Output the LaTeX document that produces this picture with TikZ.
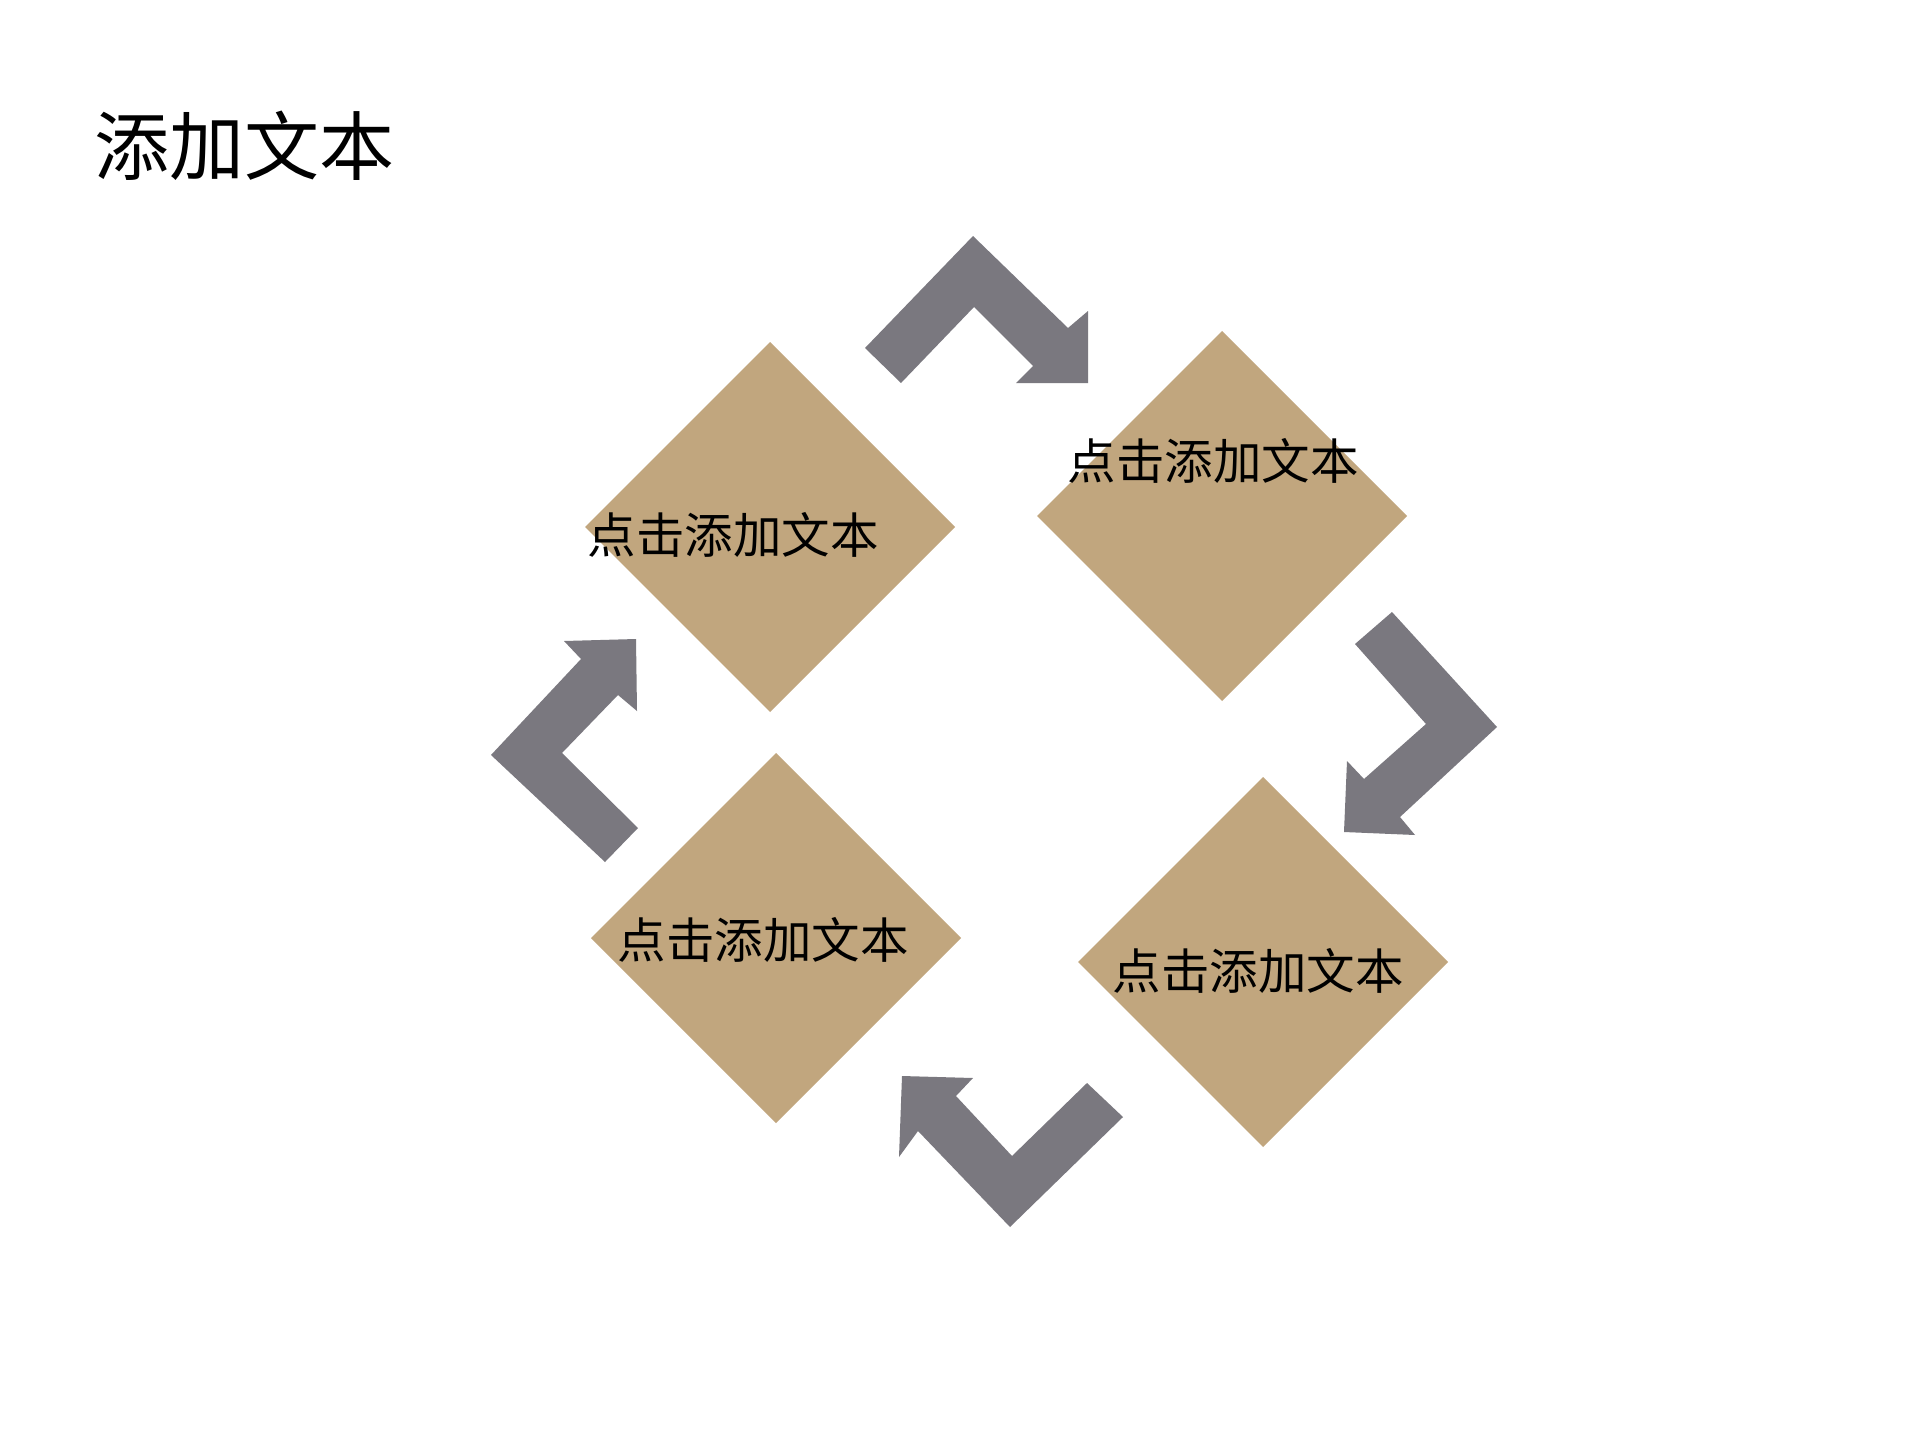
\documentclass[tikz,border=0pt]{standalone}
\usepackage{fontspec}
\newfontfamily\cjk{Noto Sans CJK SC}
\usetikzlibrary{shapes.geometric}
\definecolor{tanfill}{RGB}{193,166,126}
\definecolor{arrowgray}{RGB}{122,120,127}
\tikzset{
  dia/.style={diamond, fill=tanfill, draw=none, inner sep=0pt, outer sep=0pt,
    minimum width=370pt, minimum height=370pt},
  lbl/.style={inner sep=0pt, font=\cjk\fontsize{48.5}{58}\selectfont, text=black},
  ttl/.style={inner sep=0pt, font=\cjk\fontsize{75}{90}\selectfont, text=black},
  bentarrow/.style={fill=arrowgray, draw=none}
}
\begin{document}
\begin{tikzpicture}[x=1pt,y=-1pt]
\useasboundingbox[fill=white] (0,0) rectangle (1920,1440);
% title
\node[ttl] (title) at (244,146) {添加文本};
% diamonds
\node[dia] (d1) at (770,527) {};
\node[dia] (d2) at (1222,516) {};
\node[dia] (d3) at (1263,962) {};
\node[dia] (d4) at (776,938) {};
% labels
\node[lbl] (t1) at (733,535) {点击添加文本};
\node[lbl] (t2) at (1213,461) {点击添加文本};
\node[lbl] (t3) at (1258,971) {点击添加文本};
\node[lbl] (t4) at (763,940) {点击添加文本};
% top arrow (to the right)
\fill[bentarrow] (865,348) -- (973,236) -- (1068,328) -- (1088,311) -- (1088,383)
  -- (1016,383) -- (1033,366) -- (974,307) -- (901,383) -- cycle;
% right arrow (downwards)
\fill[bentarrow] (1392,612) -- (1497,727) -- (1400,817) -- (1415,835) -- (1344,832)
  -- (1347,761) -- (1364,779) -- (1426,724) -- (1355,644) -- cycle;
% bottom arrow (to the left)
\fill[bentarrow] (1123,1117) -- (1010,1227) -- (918,1131) -- (899,1157) -- (902,1076)
  -- (973,1078) -- (956,1096) -- (1012,1156) -- (1087,1083) -- cycle;
% left arrow (upwards)
\fill[bentarrow] (605,862) -- (491,755) -- (581,659) -- (564,641) -- (636,639)
  -- (637,711) -- (618,695) -- (562,753) -- (638,828) -- cycle;
\end{tikzpicture}
\end{document}
